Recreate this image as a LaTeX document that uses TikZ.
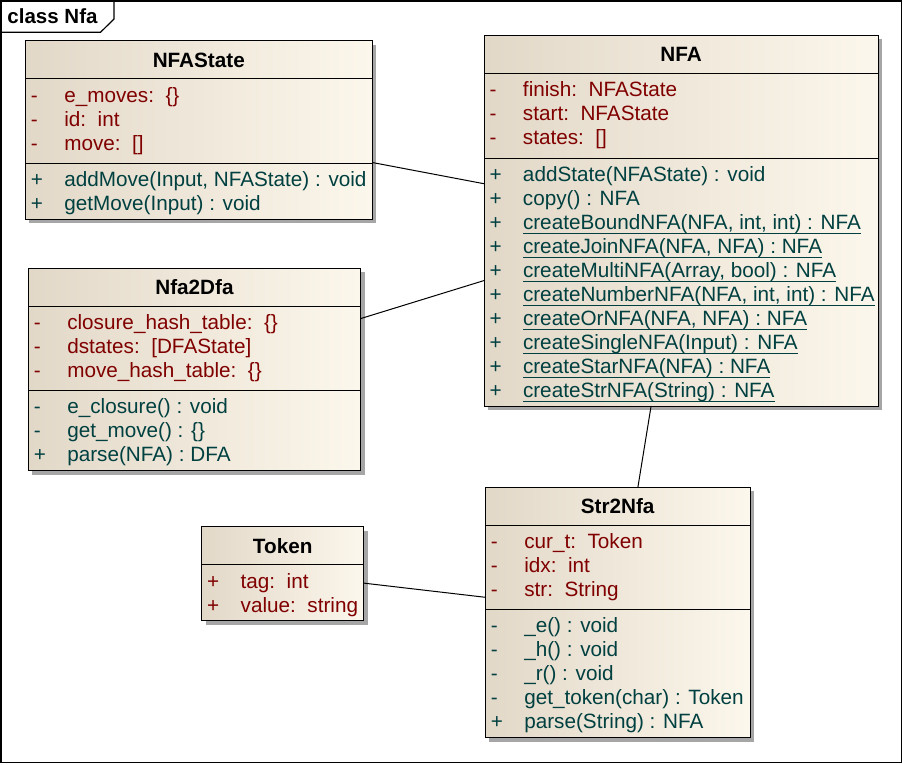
\documentclass[tikz,border=0pt]{standalone}
\usepackage{fontspec}
\setmainfont{Liberation Sans}
\usetikzlibrary{shadows}
\definecolor{classleft}{RGB}{226,216,200}
\definecolor{classright}{RGB}{252,247,236}
\definecolor{attrred}{RGB}{128,0,0}
\definecolor{methteal}{RGB}{0,64,64}
% underlined (static) operation
\newcommand{\stmeth}[1]{\setbox0\hbox{#1}\rlap{\rule[-4.4pt]{\wd0}{0.9pt}}\box0}

\begin{document}
\begin{tikzpicture}[x=1pt, y=-1pt, line width=1pt,
            classbox/.style ={draw, line width=1pt, left color=classleft, right color=classright,
            inner sep=0pt, outer sep=0pt, anchor=north west,
            drop shadow={shadow xshift=4pt, shadow yshift=-4pt, opacity=1, fill=black!35}},
            classname/.style ={font=\fontsize{20.7}{24}\selectfont\bfseries, anchor=base, inner sep=0pt},
            attrs/.style ={font=\fontsize{20.7}{24}\selectfont, text=attrred, anchor=base west, inner sep=0pt},
            meths/.style ={attrs, text=methteal},
            compline/.style ={line width=1pt}]

        \useasboundingbox (0,0) rectangle (903,764);

        %marco del diagrama
        \draw[line width=1.2pt] (1,1) rectangle (901.5,762.5);
        \draw[line width=1.2pt] (1,32.3) -- (100.5,32.3) -- (114,19) -- (114,1);
        \node[font=\fontsize{20.5}{24}\selectfont\bfseries, anchor=base west, inner sep=0pt] (title) at (7,23) {class Nfa};

        %NFAState
        \node[classbox, minimum width=347pt, minimum height=178.3pt] (nfastate) at (25.3, 40.7) {};
        \draw[compline] ([yshift=-38pt]nfastate.north west) -- ([yshift=-38pt]nfastate.north east);
        \draw[compline] ([yshift=-122.6pt]nfastate.north west) -- ([yshift=-122.6pt]nfastate.north east);
        \node[classname] (nfastate-name) at ([yshift=-26.3pt]nfastate.north) {NFAState};
        \node[attrs] (nfastate-attr) at ([xshift=5pt, yshift=-61.3pt]nfastate.north west)
            {\begin{tabular}[t]{@{}p{33.5pt}@{}l@{}}
             - & e\_moves:~~\{\}\\ - & id:~~int\\ - & move:~~[]\end{tabular}};
        \node[meths] (nfastate-meth) at ([xshift=5pt, yshift=-145.6pt]nfastate.north west)
            {\begin{tabular}[t]{@{}p{33.5pt}@{}l@{}}
             + & addMove(Input, NFAState) : void\\ + & getMove(Input) : void\end{tabular}};

        %NFA
        \node[classbox, minimum width=394pt, minimum height=371pt] (nfa) at (484, 35) {};
        \draw[compline] ([yshift=-38pt]nfa.north west) -- ([yshift=-38pt]nfa.north east);
        \draw[compline] ([yshift=-123pt]nfa.north west) -- ([yshift=-123pt]nfa.north east);
        \node[classname] (nfa-name) at ([yshift=-26.3pt]nfa.north) {NFA};
        \node[attrs] (nfa-attr) at ([xshift=5pt, yshift=-61.3pt]nfa.north west)
            {\begin{tabular}[t]{@{}p{33.5pt}@{}l@{}}
             - & finish:~~NFAState\\ - & start:~~NFAState\\ - & states:~~[]\end{tabular}};
        \node[meths] (nfa-meth) at ([xshift=5pt, yshift=-146pt]nfa.north west)
            {\begin{tabular}[t]{@{}p{33.5pt}@{}l@{}}
             + & addState(NFAState) : void\\
             + & copy() : NFA\\
             + & \stmeth{createBoundNFA(NFA, int, int) : NFA}\\
             + & \stmeth{createJoinNFA(NFA, NFA) : NFA}\\
             + & \stmeth{createMultiNFA(Array, bool) : NFA}\\
             + & \stmeth{createNumberNFA(NFA, int, int) : NFA}\\
             + & \stmeth{createOrNFA(NFA, NFA) : NFA}\\
             + & \stmeth{createSingleNFA(Input) : NFA}\\
             + & \stmeth{createStarNFA(NFA) : NFA}\\
             + & \stmeth{createStrNFA(String) : NFA}\end{tabular}};

        %Nfa2Dfa
        \node[classbox, minimum width=332.4pt, minimum height=202.6pt] (nfa2dfa) at (28.3, 268.3) {};
        \draw[compline] ([yshift=-38pt]nfa2dfa.north west) -- ([yshift=-38pt]nfa2dfa.north east);
        \draw[compline] ([yshift=-122.6pt]nfa2dfa.north west) -- ([yshift=-122.6pt]nfa2dfa.north east);
        \node[classname] (nfa2dfa-name) at ([yshift=-26.3pt]nfa2dfa.north) {Nfa2Dfa};
        \node[attrs] (nfa2dfa-attr) at ([xshift=5pt, yshift=-61.3pt]nfa2dfa.north west)
            {\begin{tabular}[t]{@{}p{33.5pt}@{}l@{}}
             - & closure\_hash\_table:~~\{\}\\ - & dstates:~~[DFAState]\\ - & move\_hash\_table:~~\{\}\end{tabular}};
        \node[meths] (nfa2dfa-meth) at ([xshift=5pt, yshift=-145.6pt]nfa2dfa.north west)
            {\begin{tabular}[t]{@{}p{33.5pt}@{}l@{}}
             - & e\_closure() : void\\ - & get\_move() : \{\}\\ + & parse(NFA) : DFA\end{tabular}};

        %Token
        \node[classbox, minimum width=162pt, minimum height=94pt] (token) at (201.7, 526.7) {};
        \draw[compline] ([yshift=-38pt]token.north west) -- ([yshift=-38pt]token.north east);
        \node[classname] (token-name) at ([yshift=-26.3pt]token.north) {Token};
        \node[attrs] (token-attr) at ([xshift=5pt, yshift=-61.3pt]token.north west)
            {\begin{tabular}[t]{@{}p{33.5pt}@{}l@{}}
             + & tag:~~int\\ + & value:~~string\end{tabular}};

        %Str2Nfa
        \node[classbox, minimum width=264.7pt, minimum height=250.6pt] (str2nfa) at (485.3, 487.3) {};
        \draw[compline] ([yshift=-38pt]str2nfa.north west) -- ([yshift=-38pt]str2nfa.north east);
        \draw[compline] ([yshift=-122.6pt]str2nfa.north west) -- ([yshift=-122.6pt]str2nfa.north east);
        \node[classname] (str2nfa-name) at ([yshift=-26.3pt]str2nfa.north) {Str2Nfa};
        \node[attrs] (str2nfa-attr) at ([xshift=5pt, yshift=-61.3pt]str2nfa.north west)
            {\begin{tabular}[t]{@{}p{33.5pt}@{}l@{}}
             - & cur\_t:~~Token\\ - & idx:~~int\\ - & str:~~String\end{tabular}};
        \node[meths] (str2nfa-meth) at ([xshift=5pt, yshift=-145.6pt]str2nfa.north west)
            {\begin{tabular}[t]{@{}p{33.5pt}@{}l@{}}
             - & \_e() : void\\ - & \_h() : void\\ - & \_r() : void\\
             - & get\_token(char) : Token\\ + & parse(String) : NFA\end{tabular}};

        %asociaciones
        \path (nfastate) edge (nfa);
        \path (nfa2dfa) edge (nfa);
        \path (nfa) edge (str2nfa);
        \path (token) edge (str2nfa);
    \end{tikzpicture}
\end{document}
